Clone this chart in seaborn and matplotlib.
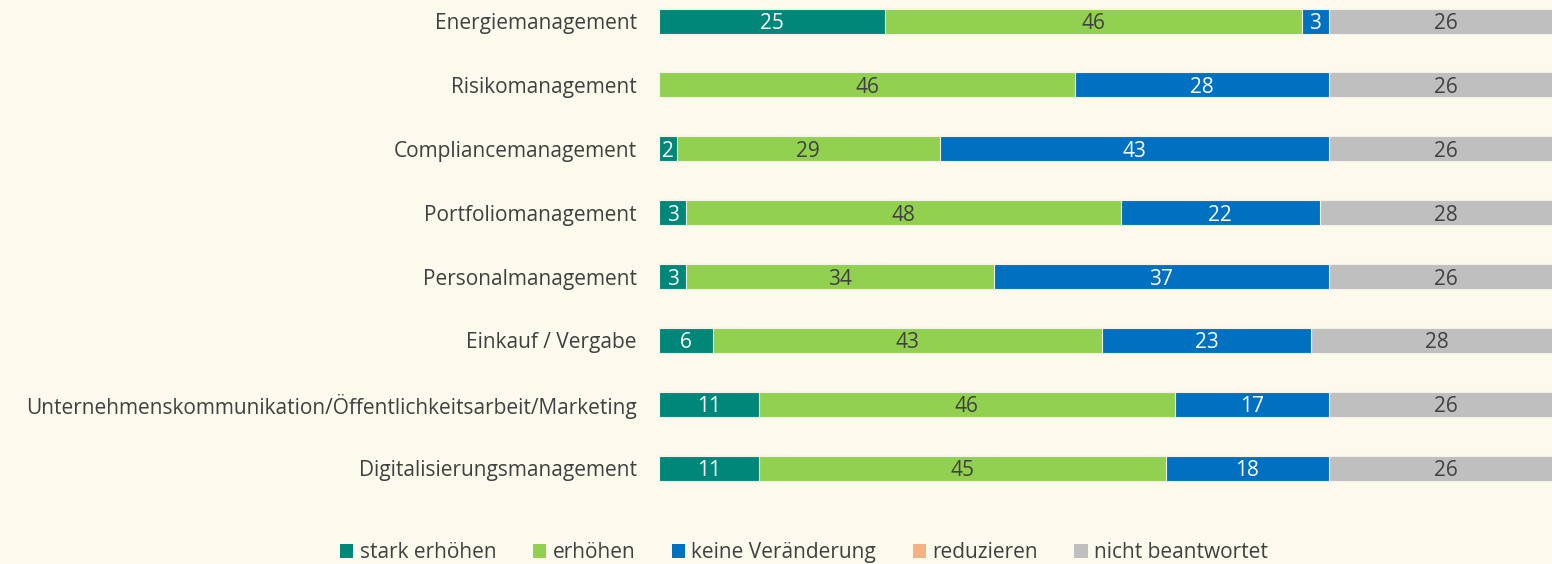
import numpy as np
import pandas as pd
import matplotlib.pyplot as plt
import seaborn as sns
from matplotlib.patches import Patch

categories = [
    'Energiemanagement',
    'Risikomanagement',
    'Compliancemanagement',
    'Portfoliomanagement',
    'Personalmanagement',
    'Einkauf / Vergabe',
    'Unternehmenskommunikation/Öffentlichkeitsarbeit/Marketing',
    'Digitalisierungsmanagement',
]
series = ['stark erhöhen', 'erhöhen', 'keine Veränderung', 'reduzieren', 'nicht beantwortet']
stark_erhoehen    = [25, 0, 2, 3, 3, 6, 11, 11]
erhoehen          = [46, 46, 29, 48, 34, 43, 46, 45]
keine_veraenderung = [3, 28, 43, 22, 37, 23, 17, 18]
reduzieren        = [0, 0, 0, 0, 0, 0, 0, 0]
nicht_beantwortet = [26, 26, 26, 28, 26, 28, 26, 26]

colors = ['#00877A', '#92D050', '#0070C0', '#F4B183', '#BFBFBF']
label_colors = ['white', '#404040', 'white', '#404040', '#404040']
BG = '#FCF9ED'
TXT = '#404040'

values = np.array([stark_erhoehen, erhoehen, keine_veraenderung, reduzieren, nicht_beantwortet], dtype=float)
cum = np.cumsum(values, axis=0)
left = cum - values

sns.set_theme(style='white')
plt.rcParams['font.family'] = ['Open Sans', 'DejaVu Sans']

fig = plt.figure(figsize=(15.52, 5.64), dpi=100, facecolor=BG)
ax = fig.add_axes([659 / 1552, (564 - 500) / 564, 1 - 659 / 1552, 500 / 564])
ax.set_facecolor(BG)

# draw stacked bars back to front (largest cumulative first)
for i in reversed(range(len(series))):
    df = pd.DataFrame({'cat': categories, 'val': cum[i]})
    sns.barplot(data=df, x='val', y='cat', orient='h', color=colors[i],
                width=0.39, ax=ax, saturation=1, edgecolor='#F2F2E6', linewidth=0.8)

for i in range(len(series)):
    for j in range(len(categories)):
        v = values[i, j]
        if v <= 0:
            continue
        ax.text(left[i, j] + v / 2, j, f'{int(v)}', ha='center', va='center_baseline',
                color=label_colors[i], fontsize=15)

ax.set_xlim(0, 893 / 9.05)
ax.set_ylim(7.5, -0.33)
ax.set_xlabel('')
ax.set_ylabel('')
ax.set_xticks([])
ax.tick_params(axis='y', length=0, pad=16, labelsize=15, labelcolor=TXT)
sns.despine(ax=ax, left=True, bottom=True)

handles = [Patch(facecolor=c, edgecolor='none') for c in colors]
fig.legend(handles, series, loc='center', bbox_to_anchor=(0.518, 0.02), ncol=5,
           frameon=False, fontsize=15, handlelength=0.65, handleheight=0.65,
           handletextpad=0.3, columnspacing=1.75, labelcolor=TXT)

fig.savefig('out.png', dpi=100, facecolor=BG)
